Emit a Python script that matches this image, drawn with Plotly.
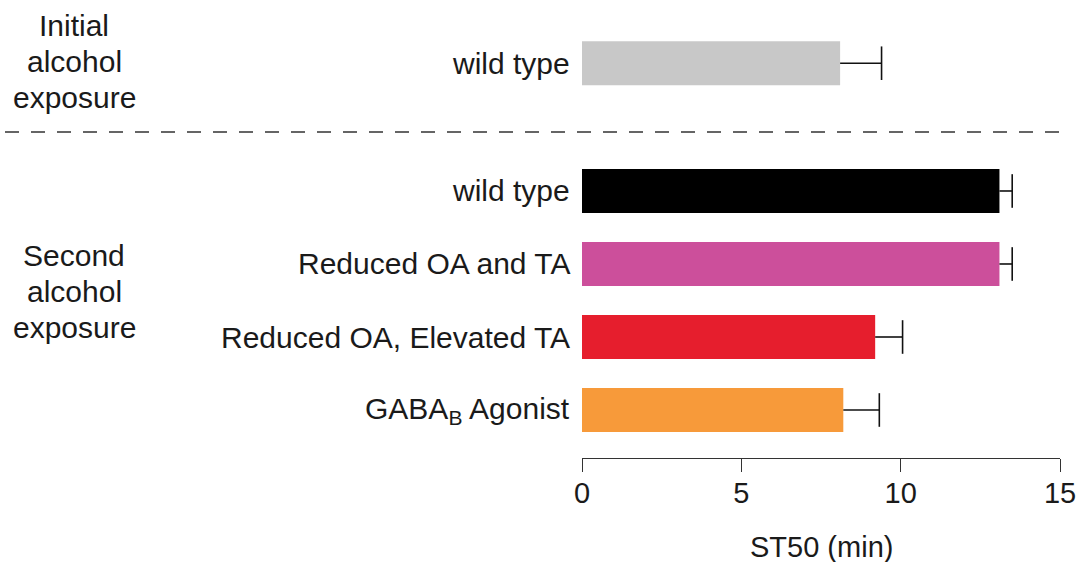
import plotly.graph_objects as go

# ---- data ----
groups = ["Initial alcohol exposure", "Second alcohol exposure"]
labels_initial = ["wild type"]
values_initial = [8.1]
errors_initial = [1.3]
colors_initial = ["#c8c8c8"]

labels_second = ["wild type", "Reduced OA and TA", "Reduced OA, Elevated TA", "GABA<sub>B</sub> Agonist"]
values_second = [13.1, 13.1, 9.2, 8.2]
errors_second = [0.4, 0.4, 0.86, 1.13]
colors_second = ["#000000", "#cc4f9b", "#e61e2d", "#f79a3a"]

x_ticks = [0, 5, 10, 15]
x_title = "ST50 (min)"

# ---- layout of rows (second group bottom-up, then a gap, then initial) ----
n2 = len(labels_second)
pos_second = [n2 - 1 - i for i in range(n2)]          # 3,2,1,0
gap = 1.75
pos_initial = [pos_second[0] + gap]

labels = labels_initial + labels_second
values = values_initial + values_second
errors = errors_initial + errors_second
colors = colors_initial + colors_second
pos = pos_initial + pos_second

FONT = "Liberation Sans"
L, R, T, B = 582, 29, 16, 104
W, H = 1089, 562
pw = W - L - R

fig = go.Figure()
fig.add_trace(go.Bar(
    x=values, y=pos, orientation="h", width=0.6,
    marker=dict(color=colors, line=dict(width=0)),
    showlegend=False, hoverinfo="skip",
))

# error bars (positive side only)
ex, ey = [], []
for v, e, p in zip(values, errors, pos):
    ex += [v, v + e, None]
    ey += [p, p, None]
fig.add_trace(go.Scatter(x=ex, y=ey, mode="lines",
                         line=dict(color="#111111", width=1.6),
                         showlegend=False, hoverinfo="skip"))
fig.add_trace(go.Scatter(x=[v + e for v, e in zip(values, errors)], y=pos,
                         mode="markers",
                         marker=dict(symbol="line-ns", size=24,
                                     line=dict(color="#111111", width=1.6)),
                         showlegend=False, hoverinfo="skip"))

# category labels
for lab, p in zip(labels, pos):
    fig.add_annotation(x=0, xref="paper", y=p, yref="y", text=lab,
                       xanchor="right", yanchor="middle", xshift=-10,
                       showarrow=False, font=dict(family=FONT, size=30, color="#1a1a1a"))

# group labels (one line per word)
group_centers = [pos_initial[0] + 0.03, (pos_second[0] + pos_second[-1]) / 2 + 0.12]
line_step = 0.493
for g, c in zip(groups, group_centers):
    words = g.split(" ")
    k = len(words)
    for j, w in enumerate(words):
        fig.add_annotation(x=(74 - L) / pw, xref="paper", y=c + ((k - 1) / 2 - j) * line_step, yref="y",
                           text=w, xanchor="center", yanchor="middle", showarrow=False,
                           font=dict(family=FONT, size=30, color="#1a1a1a"))

# dashed separator
sep_y = pos_second[0] + 0.808
fig.add_shape(type="line", xref="paper", yref="y",
              x0=(5 - L) / pw, x1=(1067 - L) / pw, y0=sep_y, y1=sep_y,
              line=dict(color="#333333", width=1.5, dash="14px,12px"))

# x title
fig.add_annotation(x=0.5, xref="paper", y=0, yref="paper", yshift=-89,
                   text=x_title, showarrow=False, xanchor="center", yanchor="middle",
                   font=dict(family=FONT, size=29, color="#1a1a1a"))

fig.update_layout(
    width=W, height=H,
    margin=dict(l=L, r=R, t=T, b=B),
    plot_bgcolor="white", paper_bgcolor="white",
    font=dict(family=FONT, size=29, color="#1a1a1a"),
    xaxis=dict(range=[0, 15], tickvals=x_ticks, showgrid=False, zeroline=False,
               showline=True, linecolor="#333333", linewidth=1.4,
               ticks="outside", ticklen=13, tickwidth=1.4, tickcolor="#333333",
               ticklabelstandoff=-4,
               tickfont=dict(family=FONT, size=29, color="#1a1a1a")),
    yaxis=dict(range=[-0.6575, 5.397], showgrid=False, zeroline=False,
               showline=False, showticklabels=False, ticks=""),
)
fig.write_html("out.html", config={"displayModeBar": False},
               post_script="document.body.style.margin='0';document.body.style.overflow='hidden';")
